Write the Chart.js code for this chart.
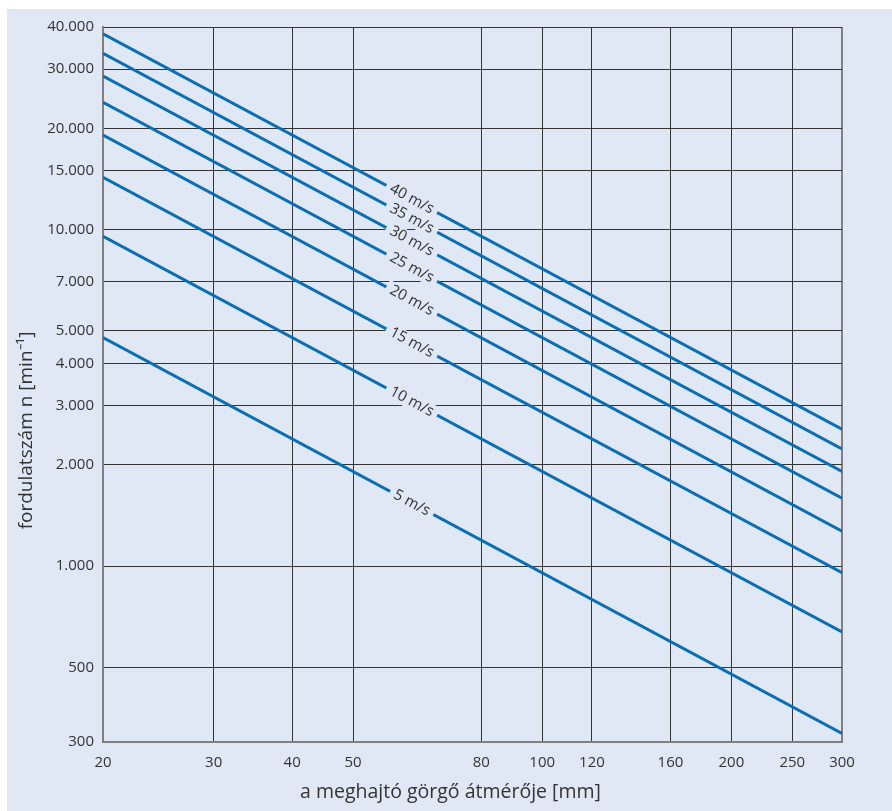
<!DOCTYPE html>
<html lang="hu">
<head>
    <meta charset="UTF-8">
    <title>Fordulatszám – görgő átmérő</title>
    <script src="https://cdn.jsdelivr.net/npm/chart.js"></script>
    <style>
        body {
            margin: 0;
            padding: 0;
            background-color: #ffffff;
        }
        #panel {
            position: absolute;
            left: 7px;
            top: 9px;
            width: 885px;
            height: 802px;
            background-color: #e0e8f5;
        }
    </style>
</head>
<body>
<div id="panel">
    <canvas id="rpmChart" width="885" height="802"></canvas>
</div>
<script>
    // kerületi sebesség (m/s) és leolvasott fordulatszámok a két végponton
    const speeds = [5, 10, 15, 20, 25, 30, 35, 40];
    const diameters = [20, 300];
    const rpmAt20 = [4775, 9550, 14300, 19100, 23900, 28600, 33400, 38200];
    const rpmAt300 = [318, 637, 955, 1270, 1590, 1910, 2230, 2550];

    const xTicks = [20, 30, 40, 50, 80, 100, 120, 160, 200, 250, 300];
    const yTicks = [300, 500, 1000, 2000, 3000, 4000, 5000, 7000, 10000, 15000, 20000, 30000, 40000];

    const xTitle = 'a meghajtó görgő átmérője [mm]';
    const yTitle = 'fordulatszám n [min⁻¹]';
    const labelDiameter = 62; // hol ül a felirat a vonalon

    const bgColor = '#e0e8f5';
    const lineColor = '#0a6eb4';
    const gridColor = '#333333';
    const edgeColor = '#808080';
    const textColor = '#333333';
    const fontFamily = '"Open Sans", sans-serif';

    function fmt(v) {
        return String(v).replace(/\B(?=(\d{3})+(?!\d))/g, '.');
    }

    const datasets = speeds.map((s, i) => ({
        label: s + ' m/s',
        data: diameters.map((d, j) => ({ x: d, y: j === 0 ? rpmAt20[i] : rpmAt300[i] })),
        borderColor: lineColor,
        borderWidth: 3,
        pointRadius: 0,
        fill: false,
        tension: 0
    }));

    // feliratok a vonalakon, a vonal dőlésével, háttér-kitöltéssel
    const lineLabels = {
        id: 'lineLabels',
        afterDatasetsDraw(chart) {
            const ctx = chart.ctx;
            const xs = chart.scales.x;
            const ys = chart.scales.y;
            ctx.save();
            ctx.font = '15px ' + fontFamily;
            ctx.textAlign = 'center';
            ctx.textBaseline = 'middle';
            chart.data.datasets.forEach((ds) => {
                const p1 = ds.data[0];
                const p2 = ds.data[1];
                const x1 = xs.getPixelForValue(p1.x), y1 = ys.getPixelForValue(p1.y);
                const x2 = xs.getPixelForValue(p2.x), y2 = ys.getPixelForValue(p2.y);
                const cx = xs.getPixelForValue(labelDiameter);
                const t = (cx - x1) / (x2 - x1);
                const cy = y1 + t * (y2 - y1);
                const ang = Math.atan2(y2 - y1, x2 - x1);
                const w = ctx.measureText(ds.label).width;
                ctx.save();
                ctx.translate(cx, cy);
                ctx.rotate(ang);
                ctx.fillStyle = bgColor;
                ctx.fillRect(-w / 2 - 5, -8, w + 10, 16);
                ctx.fillStyle = textColor;
                ctx.fillText(ds.label, 0, 0);
                ctx.restore();
            });
            ctx.restore();
        }
    };

    // tengelycímek: az eredetin egyik sincs pontosan középen
    const axisTitles = {
        id: 'axisTitles',
        afterDraw(chart) {
            const ctx = chart.ctx;
            const area = chart.chartArea;
            ctx.save();
            ctx.fillStyle = textColor;
            ctx.textAlign = 'center';
            ctx.textBaseline = 'middle';

            ctx.font = '19.5px ' + fontFamily;
            ctx.fillText(xTitle, (area.left + area.right) / 2 - 22, area.bottom + 50);

            ctx.translate(20, (area.top + area.bottom) / 2 + 46);
            ctx.rotate(-Math.PI / 2);
            ctx.font = '19px ' + fontFamily;
            ctx.fillText(yTitle, 0, 0);
            ctx.restore();
        }
    };

    new Chart(document.getElementById('rpmChart'), {
        type: 'line',
        data: { datasets: datasets },
        options: {
            responsive: false,
            animation: false,
            layout: { padding: { top: 10, right: 50, bottom: 0, left: 0 } },
            plugins: {
                legend: { display: false },
                tooltip: { enabled: false }
            },
            scales: {
                x: {
                    type: 'logarithmic',
                    min: 20,
                    max: 300,
                    afterBuildTicks: (scale) => { scale.ticks = xTicks.map(v => ({ value: v })); },
                    afterFit: (scale) => { scale.height = 69; },
                    ticks: {
                        autoSkip: false,
                        maxRotation: 0,
                        padding: 12,
                        color: textColor,
                        font: { family: fontFamily, size: 15 },
                        callback: (v) => fmt(v)
                    },
                    grid: {
                        drawTicks: false,
                        color: (c) => c.tick && c.tick.value === 300 ? edgeColor : gridColor,
                        lineWidth: (c) => c.tick && c.tick.value === 300 ? 2 : 1
                    },
                    border: { color: edgeColor, width: 2 }
                },
                y: {
                    type: 'logarithmic',
                    min: 300,
                    max: 40000,
                    afterBuildTicks: (scale) => { scale.ticks = yTicks.map(v => ({ value: v })); },
                    afterFit: (scale) => { scale.width = 96; },
                    ticks: {
                        autoSkip: false,
                        padding: 9,
                        color: textColor,
                        font: { family: fontFamily, size: 15 },
                        callback: (v) => fmt(v)
                    },
                    grid: {
                        drawTicks: false,
                        color: gridColor,
                        lineWidth: 1
                    },
                    border: { color: edgeColor, width: 2 }
                }
            }
        },
        plugins: [lineLabels, axisTitles]
    });
</script>
</body>
</html>
